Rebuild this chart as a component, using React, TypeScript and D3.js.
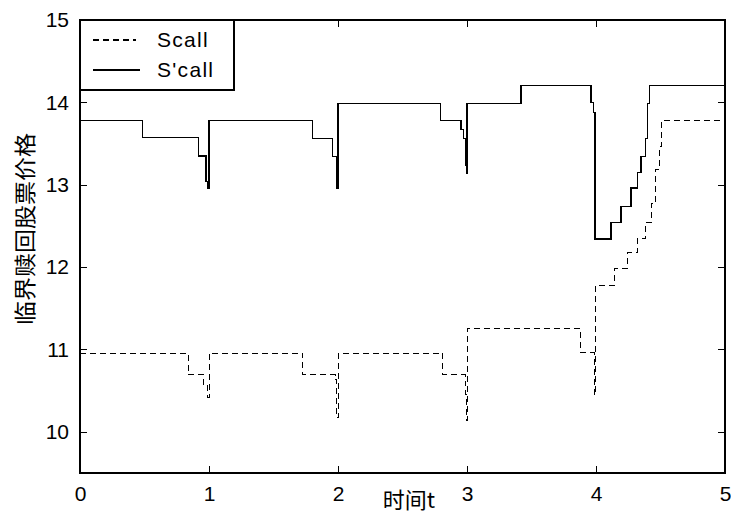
import { useEffect, useRef } from 'react'
import * as d3 from 'd3'

// step points (t, value) — held until next t
const scallT = [0, 0.84, 0.96, 0.99, 1.0, 1.726, 1.977, 1.99, 2.0, 2.81, 2.985, 2.99, 2.995, 3.0, 3.88, 3.985, 3.995, 4.14, 4.243, 4.32, 4.385, 4.43, 4.46, 4.49, 4.509, 5.0]
const scallV = [10.955, 10.69, 10.57, 10.42, 10.955, 10.69, 10.63, 10.17, 10.955, 10.69, 10.59, 10.45, 10.14, 11.25, 10.96, 10.45, 11.78, 11.98, 12.18, 12.35, 12.54, 12.77, 13.18, 13.46, 13.78, 13.78]

const sPrimeT = [0, 0.486, 0.917, 0.977, 0.992, 1.0, 1.8, 1.956, 1.99, 2.0, 2.796, 2.953, 2.971, 2.99, 2.997, 3.0, 3.419, 3.961, 3.979, 3.992, 4.116, 4.194, 4.271, 4.323, 4.349, 4.382, 4.398, 4.413, 5.0]
const sPrimeV = [13.78, 13.57, 13.35, 13.04, 12.95, 13.78, 13.56, 13.34, 12.95, 13.99, 13.78, 13.67, 13.56, 13.24, 13.14, 13.99, 14.2, 14.0, 13.88, 12.34, 12.54, 12.74, 12.96, 13.15, 13.34, 13.56, 13.99, 14.2, 14.2]

const xTicks = [0, 1, 2, 3, 4, 5]
const yTicks = [10, 11, 12, 13, 14, 15]
const legendLabels = ['Scall', "S'call"]

const FONT = '"Liberation Sans", Arial, "Noto Sans CJK SC", sans-serif'
const CJK = '"Noto Sans CJK SC", "Liberation Sans", sans-serif'

export default function App() {
  const svgRef = useRef<SVGSVGElement>(null)

  useEffect(() => {
    const svg = d3.select(svgRef.current)
    svg.selectAll('*').remove()
    const margin = { top: 20, left: 80, right: 6, bottom: 40 }
    const W = 731 - margin.left - margin.right
    const H = 513 - margin.top - margin.bottom

    const x = d3.scaleLinear().domain([0, 5]).range([0, W])
    const y = d3.scaleLinear().domain([9.5, 15]).range([H, 0])

    const g = svg.append('g').attr('transform', `translate(${margin.left},${margin.top})`)

    const styleAxis = (gg: any) => {
      gg.select('.domain').remove()
      gg.selectAll('.tick line').attr('stroke', '#000').attr('shape-rendering', 'crispEdges')
      gg.selectAll('.tick text').attr('fill', '#000').attr('font-size', '21px').attr('font-family', FONT)
    }

    g.append('g').call(d3.axisLeft(y).tickValues(yTicks).tickSize(-7).tickPadding(11).tickFormat(d3.format('d'))).call(styleAxis)
    g.append('g').attr('transform', `translate(${W},0)`).call(d3.axisRight(y).tickValues(yTicks).tickSize(-7).tickFormat(() => '')).call(styleAxis)
    g.append('g').attr('transform', `translate(0,${H})`).call(d3.axisBottom(x).tickValues(xTicks).tickSize(-7).tickPadding(13).tickFormat(d3.format('d'))).call(styleAxis)
    g.append('g').call(d3.axisTop(x).tickValues(xTicks).tickSize(-7).tickFormat(() => '')).call(styleAxis)

    const line = d3.line<[number, number]>().x(d => x(d[0])).y(d => y(d[1])).curve(d3.curveStepAfter)
    const scall: [number, number][] = scallT.map((t, i) => [t, scallV[i]])
    const sPrime: [number, number][] = sPrimeT.map((t, i) => [t, sPrimeV[i]])

    g.append('path').datum(scall).attr('d', line).attr('fill', 'none').attr('stroke', '#000')
      .attr('stroke-width', 1).attr('stroke-dasharray', '6,4').attr('shape-rendering', 'crispEdges')
    g.append('path').datum(sPrime).attr('d', line).attr('fill', 'none').attr('stroke', '#000')
      .attr('stroke-width', 1.2).attr('shape-rendering', 'crispEdges')

    // box
    g.append('rect').attr('x', 0).attr('y', 0).attr('width', W).attr('height', H)
      .attr('fill', 'none').attr('stroke', '#000').attr('stroke-width', 1.3).attr('shape-rendering', 'crispEdges')

    // legend
    const lg = g.append('g')
    lg.append('rect').attr('x', 0).attr('y', 0).attr('width', 154).attr('height', 70)
      .attr('fill', '#fff').attr('stroke', '#000').attr('stroke-width', 1.3).attr('shape-rendering', 'crispEdges')
    legendLabels.forEach((lab, i) => {
      const ly = 20 + i * 30
      lg.append('line').attr('x1', 13).attr('x2', i === 0 ? 56 : 60).attr('y1', ly).attr('y2', ly)
        .attr('stroke', '#000').attr('stroke-width', 1.2).attr('shape-rendering', 'crispEdges')
        .attr('stroke-dasharray', i === 0 ? '6,4' : null)
      lg.append('text').attr('x', 77).attr('y', ly + 7).attr('font-size', '21px').attr('font-family', FONT)
        .attr('letter-spacing', '1.3px').attr('fill', '#000').text(lab)
    })

    // axis titles
    svg.append('text').attr('x', 409).attr('y', 508).attr('text-anchor', 'middle')
      .attr('font-size', '22px').attr('font-family', CJK).attr('fill', '#000').text('时间t')
    svg.append('text').attr('transform', 'translate(33,229) rotate(-90)').attr('text-anchor', 'middle')
      .attr('font-size', '22px').attr('font-family', CJK).attr('fill', '#000')
      .attr('textLength', 192).attr('lengthAdjust', 'spacingAndGlyphs').text('临界赎回股票价格')
  }, [])

  return (
    <svg ref={svgRef} width={731} height={513}
      style={{ position: 'absolute', left: 0, top: 0, background: '#fff', display: 'block' }} />
  )
}
